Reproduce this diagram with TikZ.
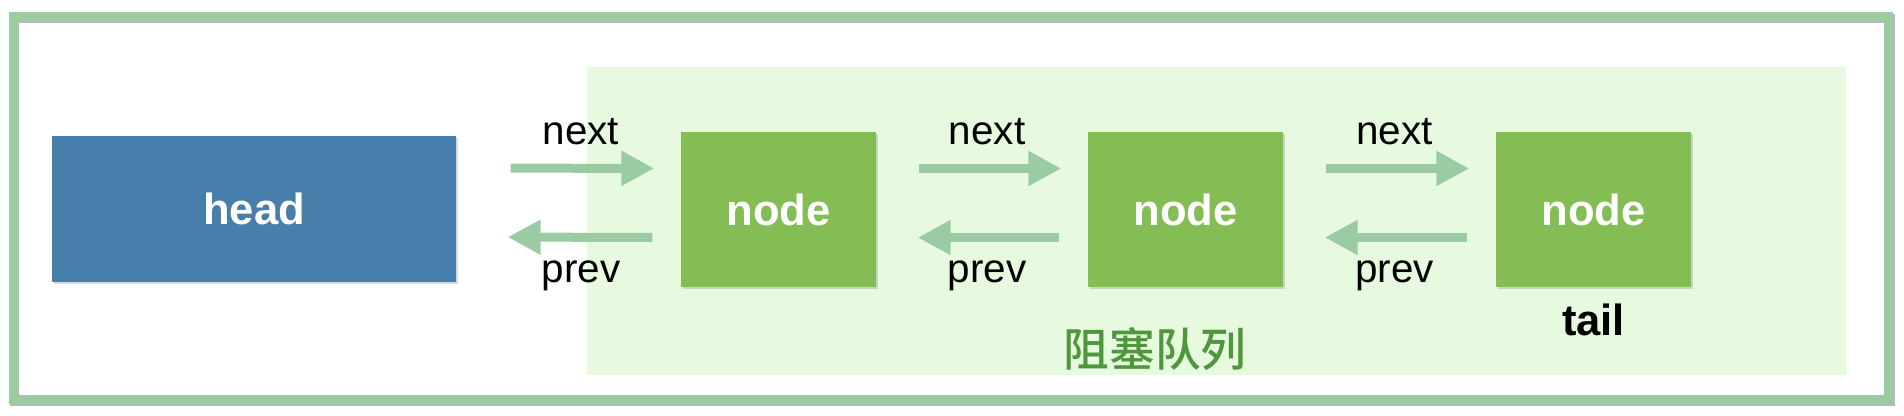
\documentclass[tikz,border=0pt]{standalone}
\usepackage{fontspec}
\setmainfont{Liberation Sans}
\newfontfamily\cjk{Noto Sans CJK SC Medium}
\usetikzlibrary{arrows.meta,shadows}
\definecolor{framegreen}{RGB}{154,203,161}
\definecolor{queuebg}{RGB}{231,250,223}
\definecolor{linkgreen}{RGB}{155,203,163}
\definecolor{nodegreen}{RGB}{133,189,85}
\definecolor{headblue}{RGB}{72,126,171}
\definecolor{cjkgreen}{RGB}{78,152,60}
\begin{document}
\begin{tikzpicture}[
    box/.style={inner sep=0pt, text=white,
                font=\fontsize{12.4}{14}\selectfont\bfseries,
                drop shadow={shadow xshift=0.02cm, shadow yshift=-0.025cm,
                             opacity=0.3}},
    elem/.style={box, fill=nodegreen, minimum width=1.95cm, minimum height=1.55cm},
    link/.style={draw=linkgreen, line width=0.09cm,
                 -{Triangle[length=0.33cm,width=0.33cm]}},
    lbl/.style={font=\fontsize{11.5}{13}\selectfont, anchor=base, inner sep=0pt}]
      \useasboundingbox (0,0) rectangle (19.04,4.16);

      % outer frame and queue area
      \draw[gray!55, line width=0.09cm] (0.15,3.97) rectangle (18.90,0.14);
      \draw[framegreen, line width=0.09cm] (0.13,3.99) rectangle (18.88,0.16);
      \fill[queuebg] (5.87,3.49) rectangle (18.46,0.41);

      \node[box, fill=headblue, minimum width=4.04cm, minimum height=1.46cm]
        (head) at (2.54,2.07) {head};
      \foreach \n/\x in {n1/7.785, n2/11.855, n3/15.935}
      {\node[elem] (\n) at (\x,2.065) {node};}

      \foreach \a/\b/\g/\h/\p in {head/n1/0.54/0.51/0.556,
                                  n1/n2/0.42/0.41/0.524,
                                  n2/n3/0.42/0.41/0.524}
      {\pgfmathsetmacro\q{1-\p}
       \draw[link, shorten <=\g cm, shorten >=0.26cm]
         ([yshift=0.41cm]\a.east)
         -- node[lbl, pos=\p, yshift=0.24cm] {next}
         ([yshift=0.41cm]\b.west);
       \draw[link, shorten <=0.28cm, shorten >=\h cm]
         ([yshift=-0.28cm]\b.west)
         -- node[lbl, pos=\q, yshift=-0.45cm] {prev}
         ([yshift=-0.28cm]\a.east);
      }

      \node[lbl, font=\fontsize{12.4}{14}\selectfont\bfseries]
        (tail) at ([yshift=-0.48cm]n3.south) {tail};
      \node[text=cjkgreen, font=\cjk\fontsize{13}{15}\selectfont]
        (queue) at (11.55,0.67) {阻塞队列};
    \end{tikzpicture}
\end{document}
